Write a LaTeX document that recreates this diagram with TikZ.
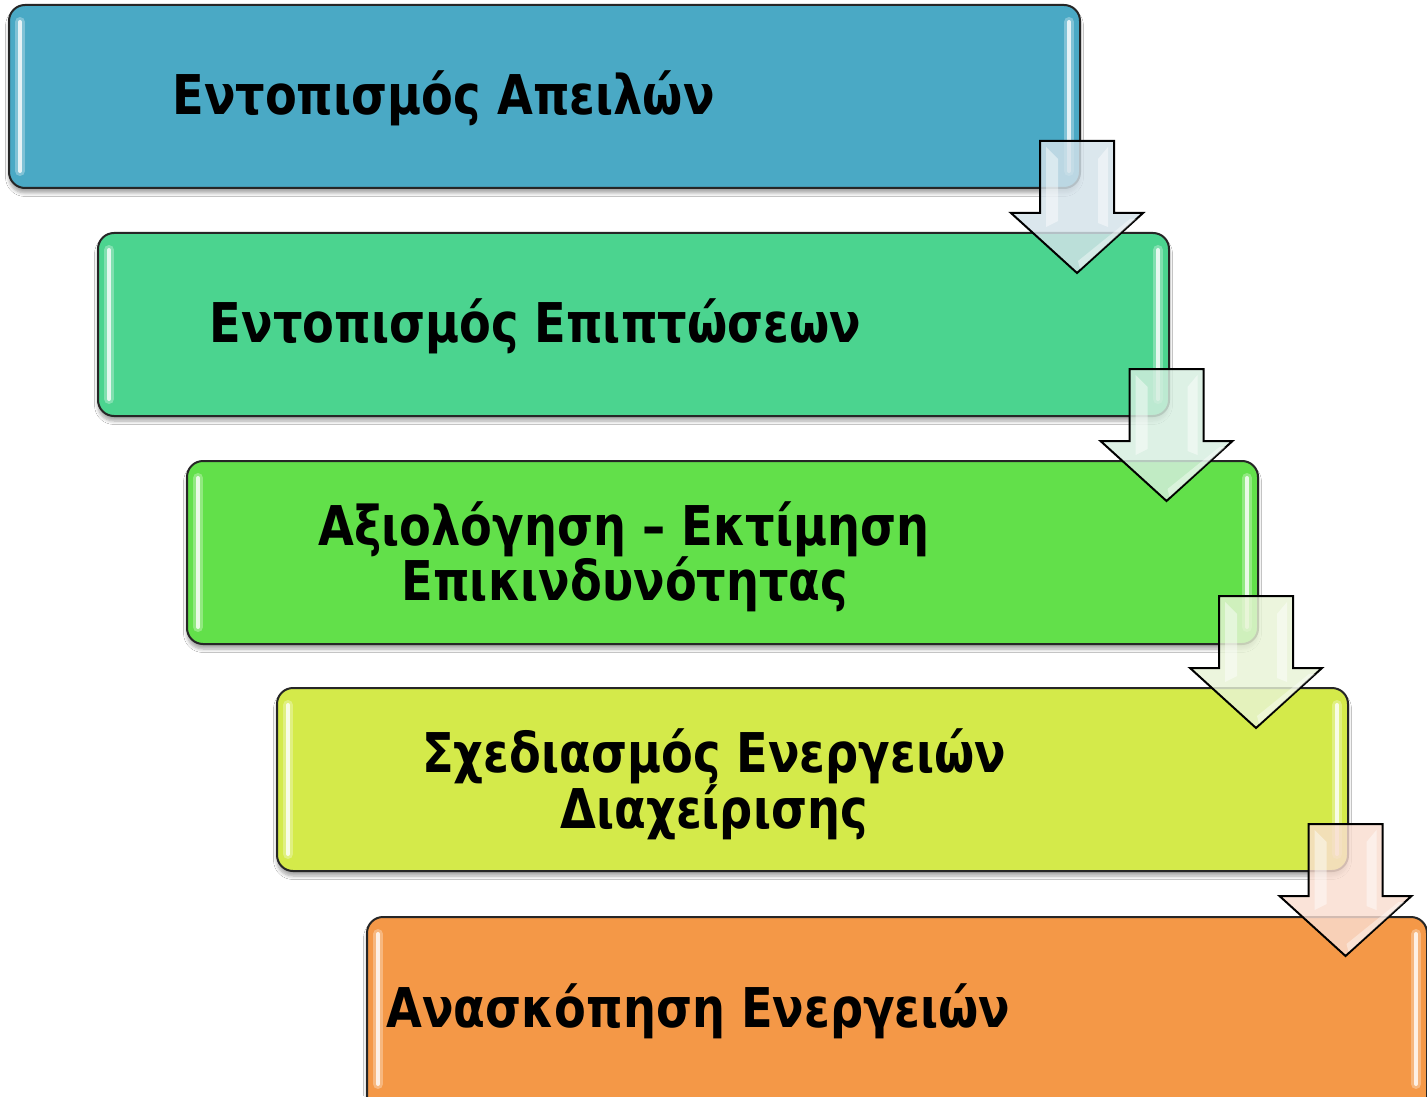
\documentclass[tikz,border=0pt]{standalone}
\usepackage{fontspec}
\newfontfamily\labfont[FakeStretch=0.845]{DejaVu Sans}
\usetikzlibrary{shadows.blur}
\definecolor{cA}{HTML}{4AA9C5}
\definecolor{cB}{HTML}{4BD48F}
\definecolor{cC}{HTML}{62E04A}
\definecolor{cD}{HTML}{D4EA4A}
\definecolor{cE}{HTML}{F49847}
\definecolor{aA}{HTML}{D4E2EA}
\definecolor{aB}{HTML}{D6EEE0}
\definecolor{aC}{HTML}{E8F4D6}
\definecolor{aD}{HTML}{F9DDD0}
\newcommand\dnarrow[3]{%
  \filldraw[blockarrow, fill=#3] (#1,#2) -- ++(74,0) -- ++(0,72) -- ++(29,0) -- ++(-66,60) -- ++(-66,-60) -- ++(29,0) -- cycle;
  \fill[white, opacity=0.45] (#1+6,#2+6) -- (#1+18,#2+18) -- (#1+18,#2+80) -- (#1+6,#2+86) -- cycle;
  \fill[white, opacity=0.45] (#1+68,#2+6) -- (#1+58,#2+18) -- (#1+58,#2+82) -- (#1+68,#2+86) -- cycle;
  \fill[white, opacity=0.4] (#1+90,#2+78) -- (#1+96,#2+78) -- (#1+40,#2+128) -- (#1+38,#2+120) -- cycle;
}
\begin{document}
\begin{tikzpicture}[x=0.5pt,y=-0.5pt,
  stagebox/.style={draw=black!85, line width=1pt, rounded corners=8pt,
    minimum width=535.5pt, minimum height=91.5pt, inner sep=0pt,
    blur shadow={shadow xshift=0pt, shadow yshift=-2.5pt, shadow blur steps=6, shadow opacity=35}},
  stagetext/.style={font=\labfont\bfseries\fontsize{27.4}{27.5}\selectfont, inner sep=0pt, anchor=base},
  glossline/.style={line width=2pt, white, opacity=0.8, line cap=round},
  glowline/.style={line width=5pt, white, opacity=0.3, line cap=round},
  blockarrow/.style={draw=black, line width=1pt, line join=miter, fill opacity=0.82}]
\useasboundingbox (0,0) rectangle (1427,1096);
\clip (0,0) rectangle (1427,1096);
\fill[white] (0,0) rectangle (1427,1096);
% boxes
\node[stagebox, fill=cA] (b1) at (544.5,96.5) {};
\node[stagebox, fill=cB] (b2) at (633.5,324.5) {};
\node[stagebox, fill=cC] (b3) at (722.5,552.5) {};
\node[stagebox, fill=cD] (b4) at (812.5,779.5) {};
\node[stagebox, fill=cE, minimum width=530pt, minimum height=105pt] (b5) at (897,1022) {};
% gloss highlights
\foreach \b in {b1,b2,b3,b4}{
  \draw[glowline] ([xshift=6pt,yshift=-9pt]\b.north west) -- ([xshift=6pt,yshift=9pt]\b.south west);
  \draw[glossline] ([xshift=6pt,yshift=-9pt]\b.north west) -- ([xshift=6pt,yshift=9pt]\b.south west);
  \draw[glowline] ([xshift=-6pt,yshift=-9pt]\b.north east) -- ([xshift=-6pt,yshift=9pt]\b.south east);
  \draw[glossline] ([xshift=-6pt,yshift=-9pt]\b.north east) -- ([xshift=-6pt,yshift=9pt]\b.south east);
}
\draw[glowline] ([xshift=6pt,yshift=-9pt]b5.north west) -- ([xshift=6pt,yshift=22pt]b5.south west);
\draw[glossline] ([xshift=6pt,yshift=-9pt]b5.north west) -- ([xshift=6pt,yshift=22pt]b5.south west);
\draw[glowline] ([xshift=-6pt,yshift=-9pt]b5.north east) -- ([xshift=-6pt,yshift=22pt]b5.south east);
\draw[glossline] ([xshift=-6pt,yshift=-9pt]b5.north east) -- ([xshift=-6pt,yshift=22pt]b5.south east);
% texts
\node[stagetext] (t1) at (443.5,115) {Εντοπισμός Απειλών};
\node[stagetext] (t2) at (535.5,343) {Εντοπισμός Επιπτώσεων};
\node[stagetext] (t3a) at (624,545) {Αξιολόγηση – Εκτίμηση};
\node[stagetext] (t3b) at (625,600) {Επικινδυνότητας};
\node[stagetext] (t4a) at (714,772) {Σχεδιασμός Ενεργειών};
\node[stagetext] (t4b) at (714,828) {Διαχείρισης};
\node[stagetext] (t5) at (698.5,1027) {Ανασκόπηση Ενεργειών};
% arrows
\dnarrow{1040}{141}{aA}
\dnarrow{1129.5}{369}{aB}
\dnarrow{1219}{596}{aC}
\dnarrow{1308.5}{824}{aD}
\end{tikzpicture}
\end{document}
